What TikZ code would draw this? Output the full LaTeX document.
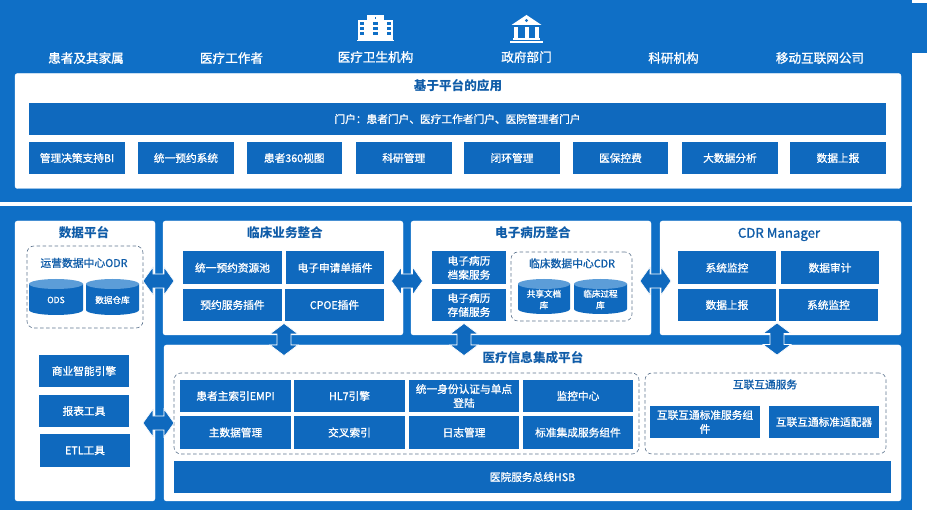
\documentclass[tikz,border=0pt]{standalone}
\usepackage{fontspec}
\setmainfont{Noto Sans CJK SC}
\newfontfamily\medcjk[FakeBold=1.2]{Noto Sans CJK SC}
\definecolor{bgblue}{HTML}{0F6FC6}
\definecolor{boxblue}{HTML}{0F69BE}
\definecolor{titleblue}{HTML}{0F5CA8}
\definecolor{dashgray}{HTML}{5F7690}
\definecolor{cyltop}{HTML}{5C9DD8}
\tikzset{
  panelbox/.style={fill=white,draw=white,line width=.4pt,rounded corners=2.5pt,inner sep=0pt},
  bluebox/.style={fill=boxblue,text=white,inner sep=0pt,align=center,font=\medcjk\fontsize{10.7}{14}\selectfont},
  zonebox/.style={draw=dashgray,line width=.6pt,dash pattern=on 3.5pt off 2.5pt,rounded corners=7pt,inner sep=0pt},
  paneltitle/.style={text=titleblue,font=\fontsize{12.6}{15}\selectfont\bfseries,inner sep=0pt,text height=10.5pt,text depth=2pt},
  zonetitle/.style={text=titleblue,font=\medcjk\fontsize{10.8}{14}\selectfont,inner sep=0pt,text height=9pt,text depth=2pt},
  toplabel/.style={text=white,font=\medcjk\fontsize{12.6}{15}\selectfont,inner sep=0pt},
  blocklink/.style={fill=boxblue,draw=white,line width=.6pt,line join=miter},
}
% name x1 y1 x2 y2 text
\newcommand\bxn[7][bluebox]{\node[#1,minimum width={(#5-#3)*1pt},minimum height={(#6-#4)*1pt}] (#2) at ({(#3+#5)/2},{(#4+#6)/2}) {#7};}
% database cylinder: name x1 y1 x2 y2 text
\newcommand\dbn[6]{%
  \fill[boxblue] (#2,#3+5) -- (#2,#5-5) arc[start angle=180,end angle=0,x radius={(#4-#2)/2},y radius=5] -- (#4,#3+5) -- cycle;
  \fill[cyltop] ({(#2+#4)/2},#3+5) ellipse[x radius={(#4-#2)/2},y radius=5];
  \node[text=white,inner sep=0pt,align=center,font=\medcjk\fontsize{8.6}{11.5}\selectfont] (#1) at ({(#2+#4)/2},{(#3+#5)/2+3}) {#6};}
% double block arrows: name cx cy
\newcommand\linkh[3]{\coordinate (#1) at (#2,#3);
  \draw[blocklink,shift={(#1)}] (-15.5,0) -- (-5.5,-14) -- (-5.5,-7) -- (5.5,-7) -- (5.5,-14) -- (15.5,0) -- (5.5,14) -- (5.5,7) -- (-5.5,7) -- (-5.5,14) -- cycle;}
\newcommand\linkv[3]{\coordinate (#1) at (#2,#3);
  \draw[blocklink,shift={(#1)}] (0,-16) -- (-14,-5.5) -- (-7,-5.5) -- (-7,5.5) -- (-14,5.5) -- (0,16) -- (14,5.5) -- (7,5.5) -- (7,-5.5) -- (14,-5.5) -- cycle;}
\begin{document}
\begin{tikzpicture}[x=1pt,y=-1pt]
\useasboundingbox (0,0) rectangle (930,510);
\fill[white] (0,0) rectangle (930,510);
\fill[bgblue] (0,0) rectangle (912,510);
\fill[bgblue] (912,3) rectangle (927,53);
\fill[white] (0,202) rectangle (912,206);

% hospital icon
\fill[white] (367,15) rectangle (384,40);
\fill[white] (358,20) rectangle (393,40);
\fill[white] (357,40) rectangle (394,41.5);
\fill[bgblue] (374.8,17.5) rectangle (376.2,19.5);
\foreach \cx in {362,375.5,389}{\foreach \cy in {24,29,34}{\fill[bgblue] (\cx-2.2,\cy-1.5) rectangle (\cx+2.2,\cy+1.5);}}
% government icon
\fill[white] (526.5,15) -- (541.5,25) -- (511.5,25) -- cycle;
\fill[bgblue] (526.5,20.5) circle[radius=1.6];
\foreach \cx in {516,526.5,537}{\fill[white] (\cx-2,27) rectangle (\cx+2,38);}
\fill[white] (513,38.5) rectangle (540,40.5);
\fill[white] (510,41.5) rectangle (543,43);

% audience labels
\node[toplabel] (aud1) at (86,58) {患者及其家属};
\node[toplabel] (aud2) at (231.5,58) {医疗工作者};
\node[toplabel] (aud3) at (375.5,57) {医疗卫生机构};
\node[toplabel] (aud4) at (526.5,57) {政府部门};
\node[toplabel] (aud5) at (673.5,58) {科研机构};
\node[toplabel] (aud6) at (820,58) {移动互联网公司};

% application panel
\bxn[panelbox]{app}{15}{73.5}{901}{188.5}{}
\node[paneltitle] (apptitle) at (458,86.5) {基于平台的应用};
\bxn{portal}{29}{103}{886}{135}{门户：患者门户、医疗工作者门户、医院管理者门户}
\bxn{a1}{29}{142}{125}{174}{管理决策支持BI}
\bxn{a2}{138}{142}{234}{174}{统一预约系统}
\bxn{a3}{246.5}{142}{342}{174}{患者360视图}
\bxn{a4}{356}{142}{451.5}{174}{科研管理}
\bxn{a5}{464}{142}{560}{174}{闭环管理}
\bxn{a6}{573}{142}{668}{174}{医保控费}
\bxn{a7}{682}{142}{778}{174}{大数据分析}
\bxn{a8}{790}{142}{886}{174}{数据上报}

% data platform
\bxn[panelbox]{dp}{15}{221}{155}{501}{}
\node[paneltitle] (dptitle) at (84,233.5) {数据平台};
\bxn[zonebox]{odr}{27}{246}{143}{328}{}
\node[zonetitle] (odrtitle) at (84,263.5) {运营数据中心ODR};
\dbn{ods}{29}{279}{83}{315}{ODS}
\dbn{dw}{86}{279}{139}{315}{数据仓库}
\bxn{d1}{39}{355}{129}{387}{商业智能引擎}
\bxn{d2}{39}{395}{129}{427}{报表工具}
\bxn{d3}{40}{434}{130}{467}{ETL工具}

% clinical
\bxn[panelbox]{cl}{163}{221}{403}{335}{}
\node[paneltitle] (cltitle) at (285,233.5) {临床业务整合};
\bxn{c1}{183}{251.5}{282}{284}{统一预约资源池}
\bxn{c2}{286}{251.5}{384}{284}{电子申请单插件}
\bxn{c3}{183}{289}{282}{321}{预约服务插件}
\bxn{c4}{285}{289}{384}{321}{CPOE插件}

% EMR
\bxn[panelbox]{em}{411}{221}{651}{335}{}
\node[paneltitle] (emtitle) at (533,233.5) {电子病历整合};
\bxn{e1}{432}{251.5}{506}{284}{电子病历\\档案服务}
\bxn{e2}{432}{289}{506}{321}{电子病历\\存储服务}
\bxn[zonebox]{cdr}{511}{252}{632}{321}{}
\node[zonetitle] (cdrtitle) at (572,264) {临床数据中心CDR};
\dbn{db1}{518}{279}{570}{314}{共享文档\\库}
\dbn{db2}{574}{279}{627}{314}{临床过程\\库}

% CDR manager
\bxn[panelbox]{mg}{660}{221}{901}{335}{}
\node[paneltitle,font=\medcjk\fontsize{13.2}{15}\selectfont] (mgtitle) at (779,233.5) {CDR Manager};
\bxn{m1}{678}{251.5}{776}{284}{系统监控}
\bxn{m2}{781}{251.5}{879}{284}{数据审计}
\bxn{m3}{678}{289}{776}{321}{数据上报}
\bxn{m4}{779}{289}{878}{321}{系统监控}

% integration platform
\bxn[panelbox]{ip}{164}{345}{901}{501}{}
\node[paneltitle] (iptitle) at (533,358) {医疗信息集成平台};
\bxn[zonebox]{izone}{174}{373}{639}{454}{}
\bxn{i1}{180}{380}{291}{412}{患者主索引EMPI}
\bxn{i2}{294}{380}{405}{412}{HL7引擎}
\bxn{i3}{409}{380}{519}{412}{统一身份认证与单点\\登陆}
\bxn{i4}{523}{380}{633}{412}{监控中心}
\bxn{i5}{180}{416}{291}{449}{主数据管理}
\bxn{i6}{294}{416}{405}{449}{交叉索引}
\bxn{i7}{409}{416}{519}{449}{日志管理}
\bxn{i8}{523}{416}{633}{449}{标准集成服务组件}
\bxn[zonebox]{hz}{645}{373}{886}{454}{}
\node[zonetitle,font=\medcjk\fontsize{10.7}{14}\selectfont] (hztitle) at (765,385) {互联互通服务};
\bxn{h1}{650}{406}{760}{438}{互联互通标准服务组\\件}
\bxn{h2}{769}{406}{879}{438}{互联互通标准适配器}
\bxn{hsb}{174}{461}{891}{493}{医院服务总线HSB}

% block double arrows between panels
\linkh{l1}{158.5}{281}
\linkh{l2}{407}{281}
\linkh{l3}{655.5}{281}
\linkh{l4}{158.5}{423}
\linkv{l5}{284}{339.5}
\linkv{l6}{464}{339.5}
\linkv{l7}{777}{339}
\end{tikzpicture}
\end{document}
